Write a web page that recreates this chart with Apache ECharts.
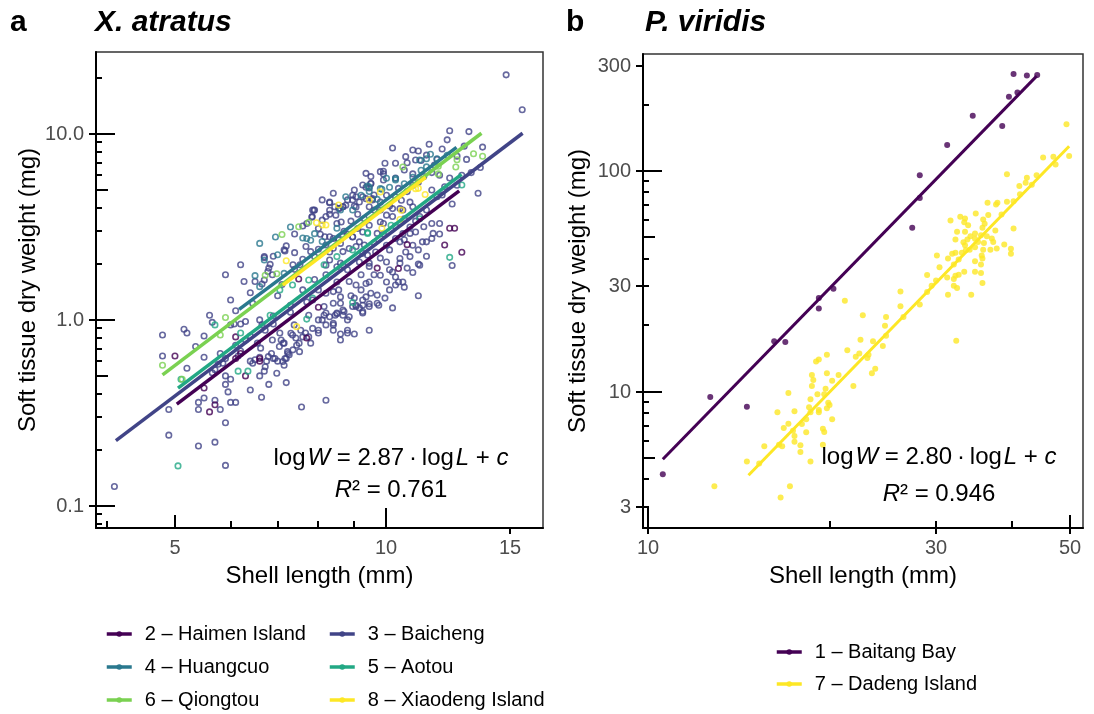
<!DOCTYPE html>
<html><head><meta charset="utf-8">
<script src="https://cdn.jsdelivr.net/npm/echarts@6/dist/echarts.min.js"></script>
<style>html,body{margin:0;padding:0;background:#fff}#c{width:1094px;height:714px}</style>
</head><body><div id="c"></div>
<script>
const FONT = '"Liberation Sans", Arial, Helvetica, sans-serif';

// ---------- Panel a: X. atratus ----------
const sitesA = ['2 – Haimen Island','3 – Baicheng','4 – Huangcuo','5 – Aotou','6 – Qiongtou','8 – Xiaodeng Island'];
const colorsA = ['#440154','#414487','#2A788E','#22A884','#7AD151','#FDE725'];

const haimen = [[5.0,0.64],[5.6,0.32],[5.7,0.35],[5.5,0.43],[6.3,0.50],[6.6,0.62],[6.6,0.60],[6.1,0.81],[6.2,0.66],[7.7,0.80],[7.5,1.66],[8.0,1.17],[9.7,1.9],[10.4,1.89],[10.7,2.54],[12.1,2.53],[12.3,3.11],[12.5,3.11],[12.8,2.31],[6.1,0.62]];

const baicheng = [[14.8,20.8],[15.6,13.5],[12.3,10.4],[13.1,10.3],[13.7,8.5],[13.6,6.6],[13.5,4.8],[12.4,4.2],[11.9,3.3],[11.9,2.9],[12.4,1.96],[11.1,8.1],[12.0,8.3],[12.6,7.6],[11.9,6.0],[11.6,3.3],[10.7,7.0],[10.6,6.4],[9.9,6.3],[9.9,6.1],[10.3,5.8],[11.1,5.5],[10.5,4.4],[10.8,4.3],[9.8,3.9],[11.1,2.0],[10.9,1.8],[10.3,1.7],[10.4,1.6],[10.1,1.45],[11.1,1.35],[10.6,1.5],[8.2,0.37],[8.6,0.84],[8.8,0.88],[8.4,0.94],[10.2,1.16],
[4.1,0.127],[4.9,0.24],[4.9,0.33],[4.8,0.83],[4.8,0.64],[5.15,0.89],[5.2,0.85],[5.35,0.72],[5.4,0.21],[5.4,0.36],[5.4,0.33],[5.5,0.38],[5.6,1.06],[5.65,0.97],[5.7,0.22],[5.7,0.37],[5.8,0.33],[5.9,0.28],[5.9,0.165],[5.7,0.54],[5.65,0.52],[5.8,0.66],[5.9,0.50],[6.0,0.48],[5.9,0.45],[5.95,0.41],[6.0,0.36],[6.1,0.36],[6.0,1.28],[6.0,0.94],[6.07,0.95],[6.2,0.95],[6.3,0.98],[6.1,0.73],[6.2,0.68],[6.15,0.64],[6.4,0.60],[6.45,0.585],[6.4,0.42],[6.45,1.23],[6.6,1.0],[6.65,0.94],[6.72,0.88],[6.55,0.75],[6.62,0.705],[6.64,0.384],[6.7,0.53],[6.72,0.56],[6.79,0.635],[6.86,0.66],[6.94,0.62],[6.98,0.517],[7.04,0.72],[7.08,0.78],[7.15,0.75],[7.23,0.675],[7.12,0.597],[7.2,0.62],[7.27,0.65],[7.31,0.848],[7.43,0.80],[7.51,0.75],[7.39,0.94],[7.57,0.34],[7.67,0.85],[7.75,0.81],[7.8,0.75],
[8.3,4.3],[7.9,3.9],[7.84,3.6],[7.2,2.5],[7.15,2.38],[6.7,2.19],[6.2,1.98],[6.27,1.61],[5.9,1.75],[6.7,1.64],[6.78,1.82],[6.8,1.9],[6.88,1.75],[7.36,1.98],[7.4,1.87],[7.68,2.48],[7.8,2.33],[7.9,2.19],[7.6,2.12],[7.53,1.98],[8.05,2.89],[8.17,2.8],[8.3,2.8],[8.44,4.06],[8.58,3.98],[8.67,4.06],[8.8,4.42],[8.95,4.42],[9.05,4.6],[9.25,4.6],[9.5,5.43],[9.35,5.17],[9.55,4.42],[9.45,4.06],[8.4,2.43],[8.55,2.69],[8.67,2.33],[8.6,2.02],[8.8,1.86],[9.05,2.48],[9.25,2.28],[9.45,2.02],[9.35,1.57],[9.5,1.39],[9.25,1.28],[8.6,1.33],[8.4,1.42],[8.2,1.39],[8.0,1.45],[7.85,1.28],[7.75,1.06],[8.0,1.0],[8.15,1.18],[8.5,1.09],[8.67,1.13],[8.8,1.0],[9.05,1.18],[9.25,1.09],[9.45,1.18],[7.55,0.88],[7.6,0.81],[7.35,0.83],[7.05,0.85],[7.13,0.75],[6.88,0.78],[8.0,0.85],[8.4,0.88],[8.6,0.78],[8.8,0.85],[9.0,0.84],[9.45,0.88],
[11.2,7.2],[11.4,7.7],[11.8,7.3],[11.7,6.8],[9.5,5.4],[9.45,5.13],[9.55,4.49],[9.35,4.49],[9.15,4.31],[8.95,4.68],[9.05,4.05],[8.75,4.14],[8.55,3.97],[8.47,3.66],[8.62,3.36],[8.3,3.89],[8.1,3.44],[10.0,4.68],[10.2,3.97],[10.45,3.97],[10.6,3.5],[10.0,3.66],[9.8,3.36],[9.45,3.23],[9.25,2.97],[9.15,2.63],[8.95,2.79],[8.85,2.42],[8.55,2.74],[8.4,2.74],[8.3,2.32],[8.2,1.97],[8.5,1.93],[8.67,1.97],[9.15,2.05],[9.4,2.23],[9.65,2.32],[10.0,2.52],[10.3,2.74],[10.55,2.91],[10.8,3.16],[11.0,2.97],[11.25,2.63],[10.9,2.52],[10.65,2.32],[10.45,2.14],[10.0,2.05],[10.2,1.81],[9.8,1.74],[9.45,1.60],[9.05,1.54],[10.55,1.60],[10.3,1.54],[11.15,1.97],[11.6,2.74],
[7.88,3.89],[7.83,3.57],[7.17,2.35],[6.7,2.16],[6.83,1.99],[6.5,1.61],[6.65,1.56],
[7.17,0.62],[7.15,0.57],[6.75,0.6],[6.9,0.62],[7.45,0.73],[7.36,0.69],[7.24,0.66],[7.52,0.675],[7.85,0.90],[8.0,0.88],[8.2,0.94],[8.4,0.96],[8.15,1.06],[8.3,1.04],[8.5,1.08],[8.67,1.06],[8.95,1.18],[9.15,1.16],[9.25,1.2],[9.45,1.22],[6.5,0.61],[6.6,0.63],[5.76,0.577],[5.85,0.585],
[9.95,1.31],[9.7,1.36],[9.75,1.2],[9.25,1.11],[9.05,1.2],[8.85,1.04],[8.7,1.11],[8.45,1.06],[8.4,1.23],[8.2,1.09],[8.1,1.0],[9.35,1.33],
[8.3,4.27],[7.85,3.9],[8.2,2.53],[8.6,2.58],[8.95,2.8],[9.3,2.53],[9.7,2.92],[9.9,3.3],[10.2,3.6],[10.55,3.9],[10.9,4.06],[11.15,3.6],[11.3,3.17],[10.8,2.92],[10.45,2.63],[10.1,2.38],[9.8,2.15],[9.45,1.94],[9.2,1.75],[8.85,1.61],[8.55,1.45],[10.1,1.86],[10.45,2.02],[10.8,2.19],[11.1,2.38],[11.4,2.63],[11.65,2.92],[9.7,1.23],[8.6,1.23],[9.0,1.31],[9.2,1.45],[8.1,4.42],[8.4,4.8],[9.0,5.0],[9.25,5.32],[9.5,5.9],[9.8,6.27],[9.35,6.14],[9.95,6.96],[10.3,6.96],[10.65,7.55],[11.0,7.24],[9.9,5.66],[8.67,4.06],
[8.0,3.1],[8.2,3.6],[8.5,3.3],[8.7,3.0],[8.9,3.4],[9.1,3.7],[9.3,3.5],[9.6,3.9],[9.8,4.3],[10.1,4.1],[10.3,4.6],[10.7,4.9],[10.9,5.3],[11.3,5.9],[11.6,6.2],[10.4,5.1],[9.6,4.7],[9.0,4.1],[8.3,3.7],[7.6,3.2],[7.4,2.9],[7.7,3.3],[8.0,2.4],[8.3,2.1],[8.8,2.9],[9.1,3.1],[9.6,2.6],[9.9,2.9],[10.3,3.2],[10.6,2.7],[11.0,3.4],[11.4,3.9],[11.8,4.6],[12.1,5.2],[12.3,5.8],[12.8,6.0],[13.0,7.3],[12.9,8.6],[12.2,9.3],[11.5,8.8],[10.9,8.2],[10.2,8.4],[7.0,1.35],[7.3,1.2],[7.6,1.45],[7.9,1.65],[8.2,1.75],[8.5,1.6],[8.9,1.35],[9.6,1.75],[10.0,1.6],[10.7,1.9],[11.4,2.2],[6.9,1.05],[6.4,0.82],[6.9,0.95],[7.3,1.1],[7.7,1.25],[6.3,0.78],[5.9,0.62],[6.6,0.5],[7.0,0.6],[6.8,0.45],[7.2,0.46],[5.5,0.63],[5.2,0.55],[6.9,2.2],[7.4,2.3],[7.1,1.55],[6.4,1.4],[6.1,1.12],[5.5,0.82],[10.9,6.1],[11.6,5.0],[12.0,4.7],[12.6,5.3],[13.2,6.2]];

const huangcuo = [[7.0,2.24],[6.5,1.73],[7.15,1.78],[7.7,2.74],[6.6,1.51],[8.1,2.64],[8.5,3.11],[8.95,3.9],[8.75,4.6],[9.4,5.25],[7.6,2.76],[7.8,2.68],[7.9,2.91],[11.4,6.65],[11.8,7.36],[11.2,6.38],[10.6,5.4],[9.8,5.08],[9.45,5.18],[9.2,4.68],[10.3,5.75],[12.2,7.68],[11.4,7.36],[10.1,5.17],[9.85,5.04],[9.45,4.9],[10.0,5.78],[10.3,5.66],[9.7,4.45],[10.9,5.85],[11.15,7.24],[11.55,7.78],[8.6,3.9],[6.6,2.58],[6.7,2.1],[6.95,2.79],[7.3,3.16]];

const aotou = [[5.05,0.164],[5.1,0.48],[5.7,0.94],[6.15,0.53],[6.35,0.53],[6.2,0.85],[6.83,1.06],[7.7,1.01],[7.85,1.31],[8.95,1.24],[12.8,5.32],[12.3,2.17],[9.4,2.95],[10.15,3.23],[11.15,3.5],[7.05,1.45],[7.35,1.54],[7.75,1.64],[8.15,1.98],[8.5,2.19],[8.95,2.38],[9.4,2.92]];

const qiongtou = [[4.8,0.57],[5.9,1.03],[5.8,0.83],[5.12,0.48],[7.5,3.17],[7.75,3.35],[6.72,1.74],[6.98,1.77],[12.6,7.27],[12.55,6.64],[13.3,7.83],[13.7,7.59],[11.85,6.7],[11.85,6.1],[7.1,2.88],[10.55,6.64]];

const xiaodeng = [[8.2,3.24],[7.95,3.33],[7.2,2.08],[11.1,5.1],[11.35,4.73],[10.45,3.47],[9.85,3.11],[8.1,3.24],[8.55,4.15],[9.45,4.42],[9.8,4.88],[10.5,3.89],[11.0,5.08],[11.15,5.75],[7.45,0.92]];

// fitted lines (endpoints)
const fitHaimen   = [[5.03,0.352],[12.69,4.94]];
const fitBaicheng = [[4.12,0.224],[15.62,10.09]];
const fitHuangcuo = [[6.17,1.14],[12.58,8.48]];
const fitAotou    = [[5.05,0.43],[12.79,6.07]];
const fitQiongtou = [[4.80,0.506],[13.65,10.09]];
const fitXiaodeng = [[7.12,1.54],[11.37,5.85]];

// ---------- Panel b: P. viridis ----------
const sitesB = ['1 – Baitang Bay','7 – Dadeng Island'];
const colorsB = ['#440154','#FDE725'];
const baitangBay = [[10.6,4.22],[12.7,9.46],[14.6,8.54],[16.2,16.9],[16.9,16.8],[19.2,26.6],[19.2,23.8],[20.3,29.3],[27.4,55.3],[28.2,75.4],[28.2,95.6],[31.3,131],[34.5,178],[38.6,160],[39.6,217],[40.9,227],[40.3,275],[42.4,271],[44.1,272]];
const dadengIsland = [[49.3,163],[49.8,117],[45.1,115],[46.9,116],[47.3,107],[44.0,95.6],[42.4,93.3],[42.2,88.5],[41.2,85.4],[43.2,86.7],[39.3,96.6],[41.3,78.4],[40.3,73.0],[39.3,72.5],[37.9,71.8],[36.5,71.8],[37.7,70.5],[38.5,63.5],[36.6,63.1],[34.9,64.2],[31.7,59.7],[32.9,62.0],[33.5,60.9],[33.4,58.6],[35.9,60.3],[36.1,57.6],[33.9,56.8],[32.5,53.0],[33.5,53.0],[35.8,55.3],[37.6,53.7],[40.3,54.9],[34.8,52.1],[34.2,50.6],[35.6,51.2],[32.3,48.9],[33.8,48.9],[33.3,47.5],[34.8,49.3],[36.4,50.6],[35.2,47.7],[37.1,49.4],[37.3,47.7],[36.0,47.2],[33.5,46.1],[34.8,45.1],[34.1,44.0],[35.9,44.0],[36.9,44.0],[37.8,44.5],[38.9,46.4],[39.9,44.4],[39.9,42.2],[32.3,42.6],[31.9,42.2],[33.1,42.6],[33.6,43.7],[35.7,41.4],[35.8,40.1],[30.1,41.4],[31.4,40.1],[32.7,39.7],[34.8,39.0],[35.6,37.7],[30.4,36.6],[32.1,37.7],[34.8,34.9],[33.4,34.9],[32.7,33.9],[32.3,33.5],[35.6,34.5],[29.0,33.8],[31.3,32.9],[30.0,31.9],[32.1,32.4],[35.8,31.1],[29.5,30.2],[32.1,30.2],[32.5,29.5],[29.0,28.3],[26.2,28.4],[31.4,27.5],[34.3,27.5],[21.2,25.8],[28.2,24.8],[26.2,24.4],[22.7,22.2],[24.8,21.8],[26.5,21.8],[24.7,19.9],[24.8,17.9],[32.4,17.0],[22.5,17.2],[23.6,16.9],[24.5,16.1],[21.4,15.4],[22.4,14.9],[23.2,14.7],[19.8,14.7],[22.1,14.4],[23.1,14.2],[19.2,14.0],[19.0,13.7],[23.8,12.7],[23.5,12.1],[20.7,11.9],[19.8,12.1],[18.7,11.9],[20.2,11.2],[18.8,11.3],[21.9,10.6],[18.7,10.6],[19.7,10.3],[17.1,9.86],[19.1,9.73],[19.6,9.73],[18.6,9.23],[19.9,8.91],[20.0,8.70],[19.8,8.40],[18.5,8.49],[19.2,8.25],[16.4,8.06],[17.5,8.14],[18.6,8.06],[19.2,8.06],[20.2,7.49],[18.3,7.49],[17.1,7.15],[18.0,7.13],[16.8,6.84],[17.4,6.65],[18.3,6.54],[19.5,6.79],[19.6,6.56],[17.5,6.29],[17.5,5.93],[17.9,5.72],[15.6,5.66],[16.5,5.74],[16.7,5.66],[19.5,5.74],[17.9,5.32],[14.6,4.83],[15.3,4.73],[18.6,4.83],[12.9,3.73],[17.2,3.73],[16.6,3.31]];
const fitBaitang = [[10.6,4.94],[44.0,269]];
const fitDadeng  = [[14.69,4.18],[49.8,129.5]];

// ---------- axes extents & ticks ----------
const xRangeA = [3.86, 16.7], yRangeA = [0.076, 27.6];
const xRangeB = [9.83, 52.5], yRangeB = [2.41, 339];
const xLabelsA = [5, 10, 15], yLabelsA = [0.1, 1, 10], yLabelTextA = ['0.1','1.0','10.0'];
const xLabelsB = [10, 30, 50], yLabelsB = [3, 10, 30, 100, 300];
const xLongA = [10], xMidA = [5], xShortA = [4,6,7,8,9], xOuterA = [15];
const yLongA = [0.1,1,10], yMidA = [0.5,5], yShortA = [0.08,0.09,0.2,0.3,0.4,0.6,0.7,0.8,0.9,2,3,4,6,7,8,9,20], yOuterA = [0.1,1,10];
const xLongB = [10], xMidB = [50], xShortB = [20,30,40], xOuterB = [10,30,50];
const yLongB = [10,100], yMidB = [5,50], yShortB = [3,4,6,7,8,9,20,30,40,60,70,80,90,200], yOuterB = [3,10,30,100,300];

const equationA = ['2.87', '0.761'];
const equationB = ['2.80', '0.946'];

function logAxis(grid, range, name, gap) {
  return {
    type: 'log', logBase: 10, gridIndex: grid, min: range[0], max: range[1],
    name: name, nameLocation: 'middle', nameGap: gap,
    nameTextStyle: { fontFamily: FONT, fontSize: 24, color: '#000' },
    axisLine: { show: true, onZero: false, lineStyle: { color: '#000', width: 2 } },
    axisTick: { show: false }, axisLabel: { show: false },
    splitLine: { show: false }, minorTick: { show: false }, minorSplitLine: { show: false }
  };
}
function ptsSeries(data, color, idx, filled) {
  return {
    type: 'scatter', name: 'pts' + idx + color, xAxisIndex: idx, yAxisIndex: idx, data: data,
    symbol: 'circle', symbolSize: filled ? 6 : 5.5, silent: true,
    itemStyle: filled ? { color: color } : { color: 'transparent', borderColor: color, borderWidth: 1.6 }
  };
}
function fitSeries(name, data, color, idx, w) {
  return {
    type: 'line', name: name, xAxisIndex: idx, yAxisIndex: idx, data: data,
    showSymbol: false, symbol: 'circle', silent: true,
    lineStyle: { color: color, width: w }, itemStyle: { color: color }
  };
}
const legendText = { fontFamily: FONT, fontSize: 20, color: '#000', lineHeight: 22, padding: [0,0,0,8] };

const option = {
  animation: false,
  backgroundColor: '#fff',
  title: [
    { text: 'a', left: 10, top: 8, padding: 0, textStyle: { fontFamily: FONT, fontSize: 30, fontWeight: 'bold', color: '#000' } },
    { text: 'X. atratus', left: 95, top: 8, padding: 0, textStyle: { fontFamily: FONT, fontSize: 30, fontWeight: 'bold', fontStyle: 'italic', color: '#000' } },
    { text: 'b', left: 566, top: 8, padding: 0, textStyle: { fontFamily: FONT, fontSize: 30, fontWeight: 'bold', color: '#000' } },
    { text: 'P. viridis', left: 645, top: 8, padding: 0, textStyle: { fontFamily: FONT, fontSize: 30, fontWeight: 'bold', fontStyle: 'italic', color: '#000' } }
  ],
  grid: [
    { left: 96, right: 551, top: 52, bottom: 186, show: true, borderColor: '#333', borderWidth: 1.5, backgroundColor: '#fff', outerBoundsMode: 'none' },
    { left: 643, right: 11, top: 54, bottom: 186, show: true, borderColor: '#333', borderWidth: 1.5, backgroundColor: '#fff', outerBoundsMode: 'none' }
  ],
  xAxis: [ logAxis(0, xRangeA, 'Shell length (mm)', 36), logAxis(1, xRangeB, 'Shell length (mm)', 36) ],
  yAxis: [ logAxis(0, yRangeA, 'Soft tissue dry weight (mg)', 56), logAxis(1, yRangeB, 'Soft tissue dry weight (mg)', 53) ],
  legend: [
    { data: [sitesA[0], sitesA[2], sitesA[4]], orient: 'vertical', left: 105, top: 623, itemWidth: 25, itemHeight: 7, itemGap: 11, padding: 0, selectedMode: false, textStyle: legendText, lineStyle: { width: 3.5 } },
    { data: [sitesA[1], sitesA[3], sitesA[5]], orient: 'vertical', left: 328, top: 623, itemWidth: 25, itemHeight: 7, itemGap: 11, padding: 0, selectedMode: false, textStyle: legendText, lineStyle: { width: 3.5 } },
    { data: sitesB, orient: 'vertical', left: 775, top: 641, itemWidth: 25, itemHeight: 7, itemGap: 10, padding: 0, selectedMode: false, textStyle: legendText, lineStyle: { width: 3.5 } }
  ],
  series: [
    ptsSeries(baicheng, colorsA[1], 0, false),
    ptsSeries(haimen, colorsA[0], 0, false),
    ptsSeries(huangcuo, colorsA[2], 0, false),
    ptsSeries(aotou, colorsA[3], 0, false),
    ptsSeries(qiongtou, colorsA[4], 0, false),
    ptsSeries(xiaodeng, colorsA[5], 0, false),
    fitSeries(sitesA[0], fitHaimen, colorsA[0], 0, 3.5),
    fitSeries(sitesA[1], fitBaicheng, colorsA[1], 0, 3.5),
    fitSeries(sitesA[2], fitHuangcuo, colorsA[2], 0, 3.5),
    fitSeries(sitesA[3], fitAotou, colorsA[3], 0, 3.5),
    fitSeries(sitesA[4], fitQiongtou, colorsA[4], 0, 3.5),
    fitSeries(sitesA[5], fitXiaodeng, colorsA[5], 0, 3.5),
    ptsSeries(baitangBay, colorsB[0], 1, true),
    ptsSeries(dadengIsland, colorsB[1], 1, true),
    fitSeries(sitesB[0], fitBaitang, colorsB[0], 1, 3),
    fitSeries(sitesB[1], fitDadeng, colorsB[1], 1, 3)
  ]
};

const chart = echarts.init(document.getElementById('c'), null, { renderer: 'canvas' });
chart.setOption(option);

// ticks and tick labels placed through the axes' own scales
const gfx = [];
function line(x1, y1, x2, y2) {
  gfx.push({ type: 'line', silent: true, z: 100, shape: { x1: x1, y1: y1, x2: x2, y2: y2 }, style: { stroke: '#000', lineWidth: 2 } });
}
function txt(x, y, s, align, va) {
  gfx.push({ type: 'text', silent: true, z: 100, x: x, y: y, style: { text: s, fill: '#4d4d4d', font: '20px ' + FONT, align: align, verticalAlign: va } });
}
function panelTicks(i, xr, yr, xLong, xMid, xShort, xOuter, yLong, yMid, yShort, yOuter, xLab, xLabT, yLab, yLabT) {
  const fx = { xAxisIndex: i }, fy = { yAxisIndex: i };
  const x0 = chart.convertToPixel(fx, xr[0]);
  const yb = chart.convertToPixel(fy, yr[0]);
  const X = v => Math.round(chart.convertToPixel(fx, v));
  const Y = v => Math.round(chart.convertToPixel(fy, v));
  xLong.forEach(v => line(X(v), yb, X(v), yb - 20));
  xMid.forEach(v => line(X(v), yb, X(v), yb - 13));
  xShort.forEach(v => line(X(v), yb, X(v), yb - 7));
  xOuter.forEach(v => line(X(v), yb, X(v), yb + 6));
  yLong.forEach(v => line(x0, Y(v), x0 + 19, Y(v)));
  yMid.forEach(v => line(x0, Y(v), x0 + 12, Y(v)));
  yShort.forEach(v => line(x0, Y(v), x0 + 6, Y(v)));
  yOuter.forEach(v => line(x0 - 7, Y(v), x0, Y(v)));
  xLab.forEach((v, k) => txt(X(v), yb + 10, xLabT[k], 'center', 'top'));
  yLab.forEach((v, k) => txt(x0 - 12, Y(v), yLabT[k], 'right', 'middle'));
}
panelTicks(0, xRangeA, yRangeA, xLongA, xMidA, xShortA, xOuterA, yLongA, yMidA, yShortA, yOuterA,
  xLabelsA, xLabelsA.map(String), yLabelsA, yLabelTextA);
panelTicks(1, xRangeB, yRangeB, xLongB, xMidB, xShortB, xOuterB, yLongB, yMidB, yShortB, yOuterB,
  xLabelsB, xLabelsB.map(String), yLabelsB, yLabelsB.map(String));

const rich = {
  n: { fontFamily: FONT, fontSize: 24, fill: '#000' },
  i: { fontFamily: FONT, fontSize: 24, fontStyle: 'italic', fill: '#000' }
};
function equation(cx, y1, y2, eq) {
  gfx.push({ type: 'text', silent: true, z: 100, x: cx, y: y1, style: {
    text: '{n|log\u200A}{i|W}{n| = ' + eq[0] + '\u2009·\u2009log\u200A}{i|L}{n| + }{i|c}', rich: rich, align: 'center', verticalAlign: 'middle' } });
  gfx.push({ type: 'text', silent: true, z: 100, x: cx, y: y2, style: {
    text: '{i|R}{n|² = ' + eq[1] + '}', rich: rich, align: 'center', verticalAlign: 'middle' } });
}
equation(391, 458, 490, equationA);
equation(939, 457, 494, equationB);

chart.setOption({ graphic: gfx });
</script>
</body></html>
